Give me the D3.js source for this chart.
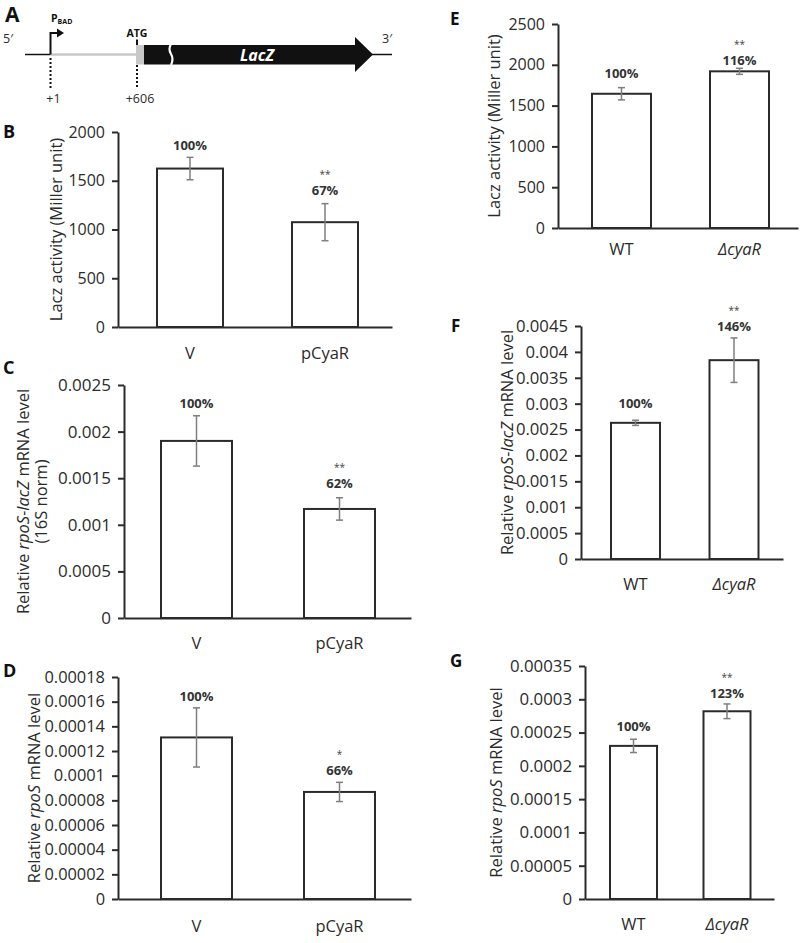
<!DOCTYPE html>
<html>
<head>
<meta charset="utf-8">
<script src="https://cdn.jsdelivr.net/npm/d3@7"></script>
<style>
  html, body { margin: 0; padding: 0; background: #fff; }
  svg { display: block; font-family: "Open Sans", "DejaVu Sans", sans-serif; }
</style>
</head>
<body>
<script>
// ---------------- DATA ----------------
const catsLeft = ["V", "pCyaR"];
const catsRight = ["WT", "\u0394cyaR"];

const valsB = [1625, 1075];
const errB  = [115, 190];
const pctB  = ["100%", "67%"];
const sigB  = ["", "**"];
const ticksB = [0, 500, 1000, 1500, 2000];

const valsC = [0.0019, 0.00117];
const errC  = [0.00027, 0.00012];
const pctC  = ["100%", "62%"];
const sigC  = ["", "**"];
const ticksC = [0, 0.0005, 0.001, 0.0015, 0.002, 0.0025];

const valsD = [0.000131, 0.0000868];
const errD  = [0.000024, 0.0000078];
const pctD  = ["100%", "66%"];
const sigD  = ["", "*"];
const ticksD = [0, 0.00002, 0.00004, 0.00006, 0.00008, 0.0001, 0.00012, 0.00014, 0.00016, 0.00018];

const valsE = [1645, 1920];
const errE  = [75, 37];
const pctE  = ["100%", "116%"];
const sigE  = ["", "**"];
const ticksE = [0, 500, 1000, 1500, 2000, 2500];

const valsF = [0.00263, 0.00384];
const errF  = [0.00005, 0.00043];
const pctF  = ["100%", "146%"];
const sigF  = ["", "**"];
const ticksF = [0, 0.0005, 0.001, 0.0015, 0.002, 0.0025, 0.003, 0.0035, 0.004, 0.0045];

const valsG = [0.00023, 0.000282];
const errG  = [0.00001, 0.000011];
const pctG  = ["100%", "123%"];
const sigG  = ["", "**"];
const ticksG = [0, 0.00005, 0.0001, 0.00015, 0.0002, 0.00025, 0.0003, 0.00035];

// construct positions (bp) for panel A
const constructMarks = [1, 606];
const constructLabels = ["+1", "+606"];

// ---------------- DRAWING ----------------
const W = 800, H = 943;
const INK = "#2b2b2b";
const ERR = "#7f7f7f";
const svg = d3.select("body").append("svg").attr("width", W).attr("height", H);

function panel(p) {
  const g = svg.append("g");
  const y = d3.scaleLinear().domain([0, p.ticks[p.ticks.length - 1]]).range([p.y0, p.yTop]);
  const x = d3.scaleBand().domain(p.cats)
    .range([p.c1 - p.w / 2, p.c2 + p.w / 2])
    .paddingInner(1 - p.w / (p.c2 - p.c1));
  const xl = d3.scaleLinear().domain([0, 1]).range([p.axisL, p.axisR]);
  const fs = p.fs || 16.5;

  // y axis
  const ya = g.append("g").attr("transform", `translate(${p.axisL},0)`)
    .call(d3.axisLeft(y).tickValues(p.ticks).tickFormat(d => String(d))
      .tickSize(6).tickSizeOuter(0).tickPadding(7));
  ya.select(".domain").attr("stroke", INK).attr("stroke-width", 2);
  ya.selectAll(".tick line").attr("stroke", INK).attr("stroke-width", 2);
  ya.selectAll(".tick text").attr("fill", INK).attr("font-size", p.tfs)
    .attr("font-family", "'Open Sans', sans-serif");

  // bars
  const data = p.cats.map((c, i) => ({ c, v: p.vals[i], e: p.errs[i], pct: p.pct[i], sig: p.sig[i], i }));
  g.selectAll("rect.bar").data(data).join("rect")
    .attr("x", d => x(d.c)).attr("width", x.bandwidth())
    .attr("y", d => y(d.v)).attr("height", d => y(0) - y(d.v))
    .attr("fill", "#fff").attr("stroke", INK).attr("stroke-width", 2);

  // x axis line
  const xa = g.append("g").attr("transform", `translate(0,${p.y0})`)
    .call(d3.axisBottom(xl).tickValues([]).tickSizeOuter(0));
  xa.select(".domain").attr("stroke", INK).attr("stroke-width", 2);

  // error bars
  const eb = g.selectAll("g.err").data(data).join("g");
  const cx = d => x(d.c) + x.bandwidth() / 2;
  eb.append("line").attr("x1", cx).attr("x2", cx)
    .attr("y1", d => y(d.v + d.e)).attr("y2", d => y(d.v - d.e))
    .attr("stroke", ERR).attr("stroke-width", 1.5);
  eb.append("line").attr("x1", d => cx(d) - 3.5).attr("x2", d => cx(d) + 3.5)
    .attr("y1", d => y(d.v + d.e)).attr("y2", d => y(d.v + d.e))
    .attr("stroke", ERR).attr("stroke-width", 1.5);
  eb.append("line").attr("x1", d => cx(d) - 3.5).attr("x2", d => cx(d) + 3.5)
    .attr("y1", d => y(d.v - d.e)).attr("y2", d => y(d.v - d.e))
    .attr("stroke", ERR).attr("stroke-width", 1.5);

  // percent labels
  g.selectAll("text.pct").data(data).join("text")
    .attr("x", cx).attr("y", d => y(d.v + d.e) - p.gap[d.i])
    .attr("text-anchor", "middle").attr("dominant-baseline", "central")
    .attr("font-weight", "bold").attr("font-size", 13).attr("fill", "#333")
    .text(d => d.pct);
  g.selectAll("text.sig").data(data.filter(d => d.sig)).join("text")
    .attr("x", cx).attr("y", d => y(d.v + d.e) - p.gap[d.i] - 16)
    .attr("text-anchor", "middle").attr("dominant-baseline", "central")
    .attr("font-size", 10).attr("fill", "#444")
    .text(d => d.sig);

  // category labels
  g.selectAll("text.cat").data(data).join("text")
    .attr("x", cx).attr("y", p.y0 + p.catGap)
    .attr("text-anchor", "middle").attr("dominant-baseline", "central")
    .attr("font-size", fs).attr("fill", INK)
    .attr("font-style", d => d.c.startsWith("\u0394") ? "italic" : "normal")
    .text(d => d.c);

  // y title
  const midY = (p.y0 + p.yTop) / 2;
  p.title.forEach((line, li) => {
    const t = g.append("text")
      .attr("transform", `translate(${p.titleX[li]},${midY}) rotate(-90)`)
      .attr("text-anchor", "middle").attr("dominant-baseline", "central")
      .attr("font-size", fs).attr("fill", INK);
    line.forEach(seg => t.append("tspan").attr("font-style", seg[1] ? "italic" : "normal").text(seg[0]));
  });

  // panel letter
  svg.append("text").attr("x", p.letterX).attr("y", p.letterY)
    .attr("font-weight", "bold").attr("font-size", p.letterSize || 18).attr("fill", "#111")
    .text(p.letter);
}

const titleLacz = [[["Lacz activity (Miller unit)", false]]];
const titleRL = [["Relative ", false], ["rpoS-lacZ", true], [" mRNA level", false]];
const titleR = [["Relative ", false], ["rpoS", true], [" mRNA level", false]];

panel({ letter: "B", letterX: 3, letterY: 138, cats: catsLeft, vals: valsB, errs: errB, pct: pctB, sig: sigB, ticks: ticksB,
  axisL: 118, axisR: 392, y0: 327, yTop: 132, c1: 190, c2: 325, w: 66, gap: [12, 14], catGap: 25, tfs: 16,
  title: titleLacz, titleX: [55] });
panel({ letter: "C", letterX: 3, letterY: 374, cats: catsLeft, vals: valsC, errs: errC, pct: pctC, sig: sigC, ticks: ticksC,
  axisL: 124, axisR: 411, y0: 618, yTop: 385, c1: 196.5, c2: 339.5, w: 71, gap: [13, 15], catGap: 24, tfs: 17,
  title: [titleRL, [["(16S norm)", false]]], titleX: [22, 40] });
panel({ letter: "D", letterX: 3, letterY: 677, cats: catsLeft, vals: valsD, errs: errD, pct: pctD, sig: sigD, ticks: ticksD,
  axisL: 118, axisR: 411, y0: 899, yTop: 677, c1: 196.5, c2: 339.5, w: 71, gap: [12, 12], catGap: 26, tfs: 16.4,
  title: [titleR], titleX: [33] });
panel({ letter: "E", letterX: 450, letterY: 25, letterSize: 17, cats: catsRight, vals: valsE, errs: errE, pct: pctE, sig: sigE, ticks: ticksE,
  axisL: 558, axisR: 798, y0: 228, yTop: 24, c1: 621.5, c2: 739.5, w: 59, gap: [15, 8], catGap: 20, tfs: 16,
  title: titleLacz, titleX: [493] });
panel({ letter: "F", letterX: 451, letterY: 332, letterSize: 17, cats: catsRight, vals: valsF, errs: errF, pct: pctF, sig: sigF, ticks: ticksF,
  axisL: 581, axisR: 783, y0: 559, yTop: 326, c1: 635.5, c2: 734, w: 49, gap: [17, 12], catGap: 24, tfs: 16.7,
  title: [titleRL], titleX: [506] });
panel({ letter: "G", letterX: 450, letterY: 667, letterSize: 17, cats: catsRight, vals: valsG, errs: errG, pct: pctG, sig: sigG, ticks: ticksG,
  axisL: 585, axisR: 774, y0: 899, yTop: 666, c1: 633.5, c2: 727, w: 47, gap: [13, 11], catGap: 24, tfs: 16.8,
  title: [titleR], titleX: [495] });

// ---------------- PANEL A: construct diagram ----------------
(function () {
  const a = svg.append("g");
  const bp = d3.scaleLinear().domain(constructMarks).range([50.5, 137]);
  const yl = 54.5;
  const x1 = bp(constructMarks[0]), x606 = bp(constructMarks[1]);
  a.append("text").attr("x", 5).attr("y", 22).attr("font-weight", "bold").attr("font-size", 21).attr("fill", "#111").text("A");
  a.append("text").attr("x", 3).attr("y", 43).attr("font-size", 12.5).attr("fill", INK).text("5\u2032");
  a.append("text").attr("x", 382).attr("y", 43).attr("font-size", 12.5).attr("fill", INK).text("3\u2032");
  // backbone
  a.append("line").attr("x1", 25).attr("x2", x1).attr("y1", yl).attr("y2", yl).attr("stroke", "#111").attr("stroke-width", 1.5);
  a.append("line").attr("x1", x1).attr("x2", x606).attr("y1", yl).attr("y2", yl).attr("stroke", "#c8c8c8").attr("stroke-width", 2.5);
  a.append("line").attr("x1", 370).attr("x2", 392).attr("y1", yl).attr("y2", yl).attr("stroke", "#111").attr("stroke-width", 1.5);
  // promoter arrow
  a.append("path").attr("d", `M${x1},${yl} V33 H58`).attr("fill", "none").attr("stroke", "#111").attr("stroke-width", 2);
  a.append("path").attr("d", `M57,28.5 L64,33 L57,37.5 Z`).attr("fill", "#111");
  const pb = a.append("text").attr("x", 51).attr("y", 22).attr("font-weight", "bold").attr("fill", "#111");
  pb.append("tspan").attr("font-size", 10.5).text("P");
  pb.append("tspan").attr("font-size", 7).attr("dy", 2).text("BAD");
  // gray 5'UTR end box + ATG
  a.append("rect").attr("x", x606 - 1).attr("y", 45).attr("width", 8).attr("height", 19.5).attr("fill", "#c8c8c8");
  a.append("line").attr("x1", x606).attr("x2", x606).attr("y1", 39.5).attr("y2", 45).attr("stroke", "#111").attr("stroke-width", 2);
  a.append("text").attr("x", x606).attr("y", 37).attr("text-anchor", "middle").attr("font-weight", "bold").attr("font-size", 10.5).attr("fill", "#111").text("ATG");
  // LacZ arrow
  a.append("path").attr("d", `M${x606 + 7},45 H355 V37 L373,${yl} L355,72 V64.5 H${x606 + 7} Z`).attr("fill", "#111");
  // break
  a.append("path").attr("d", "M171,44 q-3,5 0,10 q3,5 0,11").attr("fill", "none").attr("stroke", "#fff").attr("stroke-width", 2.2);
  a.append("text").attr("x", 257).attr("y", yl).attr("text-anchor", "middle").attr("dominant-baseline", "central")
    .attr("font-weight", "bold").attr("font-style", "italic").attr("font-size", 16).attr("fill", "#fff").text("LacZ");
  // dotted guides and labels
  [[x1, 58, constructLabels[0]], [x606, 65, constructLabels[1]]].forEach(([xx, yy, lab]) => {
    a.append("line").attr("x1", xx).attr("x2", xx).attr("y1", yy).attr("y2", 88)
      .attr("stroke", "#111").attr("stroke-width", 2).attr("stroke-dasharray", "2,2");
    a.append("text").attr("x", xx + 3).attr("y", 103).attr("text-anchor", "middle").attr("font-size", 12.5).attr("fill", INK).text(lab);
  });
})();
</script>
</body>
</html>
